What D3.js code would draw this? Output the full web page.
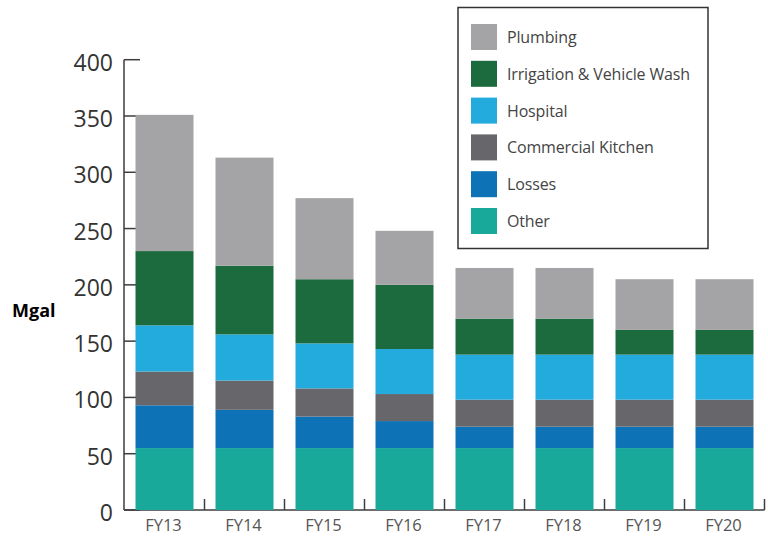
<!DOCTYPE html>
<html>
<head>
<meta charset="utf-8">
<script src="https://cdn.jsdelivr.net/npm/d3@7"></script>
<style>
  html, body { margin: 0; padding: 0; background: #fff; }
  svg { display: block; }
  text { font-family: "Open Sans", "Noto Sans", sans-serif; }
</style>
</head>
<body>
<svg id="chart" width="768" height="536"></svg>
<script>
// Annual water use by category (Mgal)
const years = ["FY13", "FY14", "FY15", "FY16", "FY17", "FY18", "FY19", "FY20"];
const other      = [55, 55, 55, 55, 55, 55, 55, 55];
const losses     = [38, 34, 28, 24, 19, 19, 19, 19];
const kitchen    = [30, 26, 25, 24, 24, 24, 24, 24];
const hospital   = [41, 41, 40, 40, 40, 40, 40, 40];
const irrigation = [66, 61, 57, 57, 32, 32, 22, 22];
const plumbing   = [121, 96, 72, 48, 45, 45, 45, 45];
const yTicks = [0, 50, 100, 150, 200, 250, 300, 350, 400];

// stacking order bottom to top
const series = [
  { name: "Other", values: other, color: "#18a99b" },
  { name: "Losses", values: losses, color: "#0e72b6" },
  { name: "Commercial Kitchen", values: kitchen, color: "#67666b" },
  { name: "Hospital", values: hospital, color: "#24abdd" },
  { name: "Irrigation & Vehicle Wash", values: irrigation, color: "#1b6b3f" },
  { name: "Plumbing", values: plumbing, color: "#a4a3a5" }
];

const rows = years.map((y, i) => {
  const r = { year: y };
  series.forEach(s => { r[s.name] = s.values[i]; });
  return r;
});

const svg = d3.select("#chart");

const x = d3.scaleBand()
  .domain(years)
  .range([124.5, 764.5])
  .paddingInner(0.275)
  .paddingOuter(0.1375);

const y = d3.scaleLinear().domain([0, 400]).range([510, 59.7]);

const stack = d3.stack().keys(series.map(s => s.name));
const layers = stack(rows);
const color = d3.scaleOrdinal().domain(series.map(s => s.name)).range(series.map(s => s.color));

// axis lines and ticks
const axisColor = "#3d3d3d";
const g = svg.append("g");

g.selectAll("line.ytick")
  .data(yTicks)
  .join("line")
  .attr("x1", 124).attr("x2", 140)
  .attr("y1", d => y(d)).attr("y2", d => y(d))
  .attr("stroke", axisColor).attr("stroke-width", 1.5);

const step = x.step();
const gapRight = d => x(d) + x.bandwidth() + (step - x.bandwidth()) / 2;
g.selectAll("line.xtick")
  .data(years)
  .join("line")
  .attr("x1", gapRight)
  .attr("x2", gapRight)
  .attr("y1", y(0)).attr("y2", y(0) - 11)
  .attr("stroke", axisColor).attr("stroke-width", 1.5);

g.append("line")
  .attr("x1", 124).attr("x2", 124)
  .attr("y1", y(400)).attr("y2", y(0))
  .attr("stroke", axisColor).attr("stroke-width", 1.5);

g.append("line")
  .attr("x1", 124).attr("x2", gapRight(years[years.length - 1]))
  .attr("y1", y(0)).attr("y2", y(0))
  .attr("stroke", axisColor).attr("stroke-width", 1.5);

// stacked bars
svg.append("g")
  .selectAll("g")
  .data(layers)
  .join("g")
  .attr("fill", d => color(d.key))
  .selectAll("rect")
  .data(d => d)
  .join("rect")
  .attr("x", d => x(d.data.year))
  .attr("width", x.bandwidth())
  .attr("y", d => y(d[1]))
  .attr("height", d => y(d[0]) - y(d[1]));

// y tick labels
svg.append("g")
  .selectAll("text")
  .data(yTicks)
  .join("text")
  .attr("x", 113)
  .attr("y", d => y(d) + 11)
  .attr("text-anchor", "end")
  .attr("font-size", 23)
  .attr("fill", "#333")
  .text(d => d);

// x labels
svg.append("g")
  .selectAll("text")
  .data(years)
  .join("text")
  .attr("x", d => x(d) + x.bandwidth() / 2 - 1)
  .attr("y", 531)
  .attr("text-anchor", "middle")
  .attr("font-size", 16.5)
  .attr("fill", "#555")
  .text(d => d);

// axis title
svg.append("text")
  .attr("x", 12)
  .attr("y", 317)
  .attr("font-size", 18)
  .attr("font-weight", "bold")
  .attr("fill", "#000")
  .text("Mgal");

// legend
const legend = svg.append("g");
legend.append("rect")
  .attr("x", 458).attr("y", 7.5)
  .attr("width", 250).attr("height", 241)
  .attr("fill", "#fff")
  .attr("stroke", "#333").attr("stroke-width", 1.5);

const legendItems = series.slice().reverse();
const li = legend.selectAll("g.item")
  .data(legendItems)
  .join("g")
  .attr("transform", (d, i) => `translate(471, ${24 + i * 36.8})`);

li.append("rect")
  .attr("width", 26).attr("height", 26)
  .attr("fill", d => d.color);

li.append("text")
  .attr("x", 36)
  .attr("y", 19)
  .attr("font-size", 16)
  .attr("letter-spacing", -0.15)
  .attr("fill", "#444")
  .text(d => d.name);
</script>
</body>
</html>
